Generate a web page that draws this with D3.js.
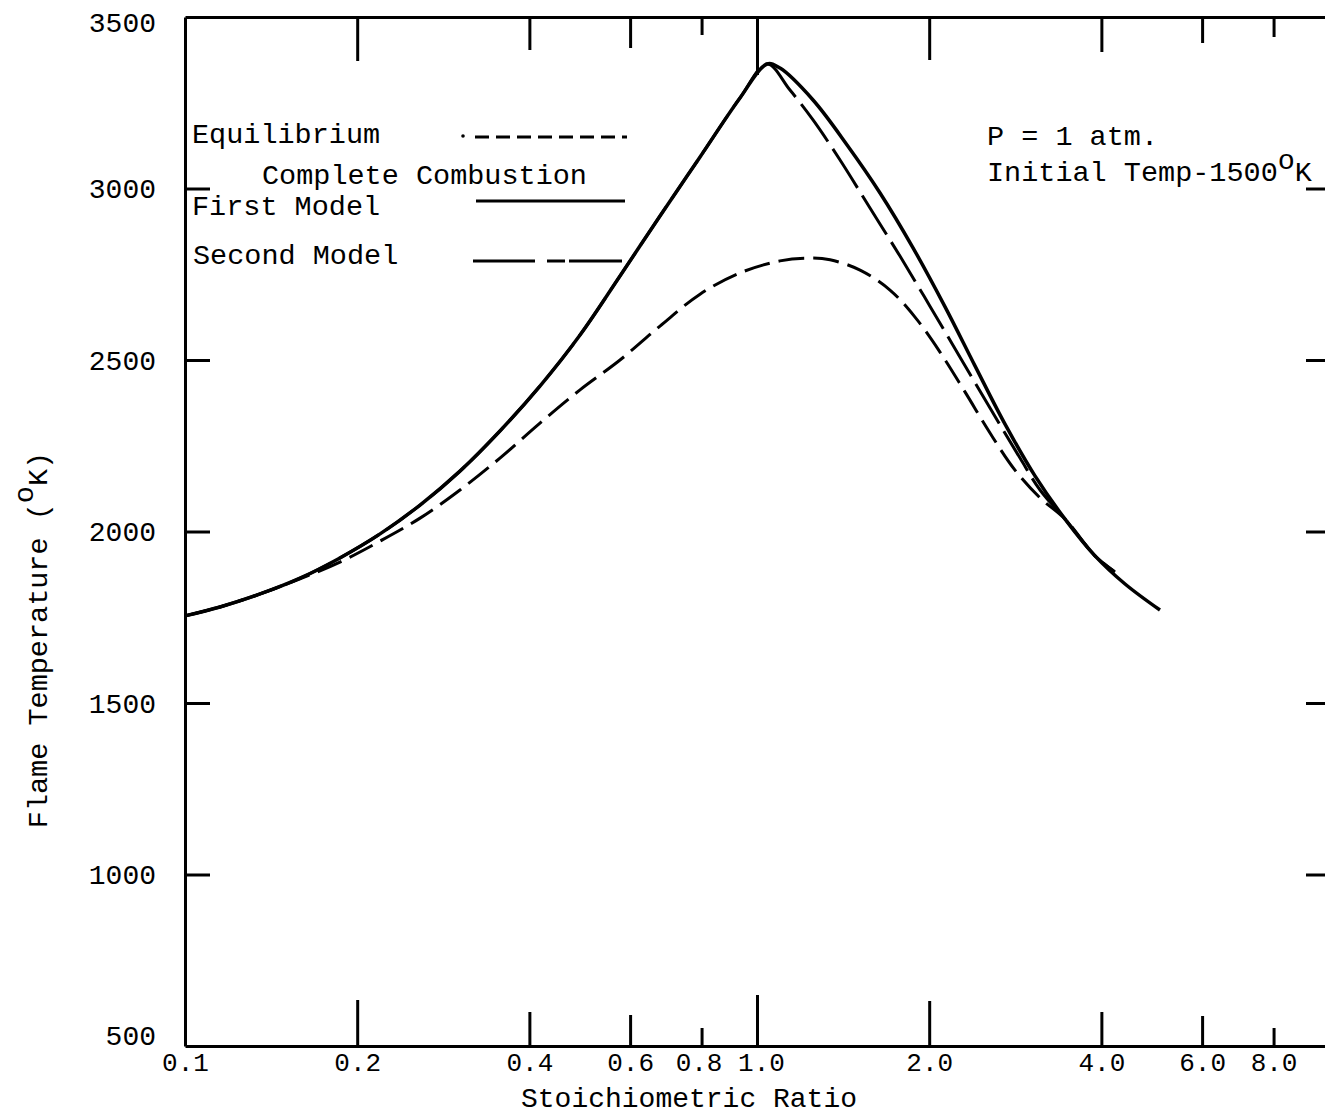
<!DOCTYPE html>
<html><head><meta charset="utf-8">
<script src="https://cdn.jsdelivr.net/npm/d3@7"></script>
<style>body{margin:0;background:#fff} svg{display:block;background:#fff}</style>
</head><body>
<svg id="c" width="1325" height="1118"></svg>
<script>
// ---------- data ----------
const xTicks = [0.1, 0.2, 0.4, 0.6, 0.8, 1.0, 2.0, 4.0, 6.0, 8.0];
const xTickLabels = ["0.1", "0.2", "0.4", "0.6", "0.8", "1.0", "2.0", "4.0", "6.0", "8.0"];
const yTicks = [500, 1000, 1500, 2000, 2500, 3000, 3500];

// Complete Combustion – First Model (solid)
const firstRatio = [0.1, 0.1151, 0.1353, 0.1589, 0.1866, 0.2193, 0.2576, 0.3025, 0.3553, 0.4174, 0.4905, 0.5761,
                    0.6768, 0.7951, 0.9338, 1.041, 1.097, 1.253, 1.437, 1.641, 1.874, 2.132, 2.405, 2.714,
                    3.062, 3.456, 3.899, 4.400, 5.064];
const firstTemp  = [1754, 1780, 1818, 1864, 1923, 1993, 2077, 2176, 2293, 2424, 2573, 2745,
                    2920, 3092, 3264, 3363, 3351, 3258, 3127, 2987, 2827, 2655, 2483, 2313,
                    2162, 2036, 1929, 1847, 1771];

// Complete Combustion – Second Model (long dash)
const secondRatio = [0.1, 0.1151, 0.1353, 0.1589, 0.1866, 0.2193, 0.2576, 0.3025, 0.3553, 0.4174, 0.4905, 0.5761,
                     0.6768, 0.7951, 0.9338, 1.041, 1.142, 1.253, 1.397, 1.576, 1.778, 2.006, 2.263, 2.555,
                     2.883, 3.125, 3.456, 3.899, 4.226];
const secondTemp  = [1754, 1780, 1818, 1864, 1923, 1993, 2077, 2176, 2293, 2424, 2573, 2745,
                     2920, 3092, 3264, 3363, 3287, 3200, 3083, 2943, 2803, 2657, 2509, 2360,
                     2214, 2121, 2036, 1929, 1882];

// Equilibrium (short dash)
const eqRatio = [0.1, 0.1151, 0.1353, 0.1589, 0.1866, 0.2193, 0.2576, 0.3025, 0.3553, 0.4174, 0.4905, 0.5761,
                 0.6768, 0.7951, 0.9338, 1.097, 1.213, 1.342, 1.514, 1.708, 1.889, 2.089, 2.310, 2.555,
                 2.825, 3.125, 3.456, 3.899, 4.226];
const eqTemp  = [1754, 1780, 1818, 1862, 1911, 1972, 2039, 2121, 2214, 2316, 2413, 2500,
                 2599, 2692, 2754, 2789, 2797, 2792, 2762, 2704, 2625, 2523, 2407, 2287,
                 2179, 2098, 2036, 1929, 1882];

// ---------- drawing ----------
const FONT = "'Liberation Mono', 'DejaVu Sans Mono', monospace";
const svg = d3.select("#c");
const L = 185, R = 1329, T = 17, B = 1046;
const x = d3.scaleLog().domain([0.1, 10]).range([L, R]);
const y = d3.scaleLinear().domain([500, 3500]).range([B, T]);

// tick length styles (pixels)
const bottomLen = {0.2: 46, 0.4: 34, 0.6: 31, 0.8: 18, 1: 51, 2: 45, 4: 34, 6: 30, 8: 18};
const topLen    = {0.2: 44, 0.4: 33, 0.6: 31, 0.8: 18, 1: 58, 2: 43, 4: 35, 6: 26, 8: 20};

const axisStyle = g => {
  g.select(".domain").attr("stroke", "#000").attr("stroke-width", 3);
  g.selectAll(".tick line").attr("stroke", "#000").attr("stroke-width", 3);
  g.selectAll("text").attr("fill", "#000").style("font-family", FONT);
};

// bottom axis
const gB = svg.append("g").attr("transform", `translate(0,${B})`)
  .call(d3.axisBottom(x).tickValues(xTicks).tickFormat((d, i) => xTickLabels[i]).tickSizeInner(0).tickSizeOuter(0))
  .call(axisStyle);
gB.selectAll(".tick line").attr("y2", d => -(bottomLen[d] || 0));
gB.selectAll(".tick text").attr("y", 25).attr("dy", null).style("font-size", "26px")
  .attr("x", d => d === 1 ? 4 : (d === 0.8 ? -3 : 0));

// top axis
const gT = svg.append("g").attr("transform", `translate(0,${T})`)
  .call(d3.axisTop(x).tickValues(xTicks.slice(1)).tickFormat("").tickSizeInner(0).tickSizeOuter(0))
  .call(axisStyle);
gT.selectAll(".tick line").attr("y2", d => topLen[d] || 0);

// left axis
const gL = svg.append("g").attr("transform", `translate(${L},0)`)
  .call(d3.axisLeft(y).tickValues(yTicks).tickFormat(d3.format("d")).tickSizeInner(0).tickSizeOuter(0))
  .call(axisStyle);
gL.selectAll(".tick line").attr("x2", d => (d === 500 || d === 3500) ? 0 : 25);
gL.selectAll(".tick text").attr("x", -29).attr("dy", null)
  .attr("y", d => d === 500 ? -2 : (d === 3500 ? 14 : 9))
  .style("font-size", "28px");

// right axis
svg.append("g").attr("transform", `translate(${R},0)`)
  .call(d3.axisRight(y).tickValues(yTicks.slice(1, -1)).tickFormat("").tickSizeInner(-23).tickSizeOuter(0))
  .call(axisStyle);

// curves
const line = d3.line().x(d => x(d[0])).y(d => y(d[1])).curve(d3.curveCatmullRom.alpha(0.5));
const zip = (a, b) => a.map((v, i) => [v, b[i]]);

svg.append("path").datum(zip(eqRatio, eqTemp)).attr("d", line)
  .attr("fill", "none").attr("stroke", "#000").attr("stroke-width", 3).attr("stroke-dasharray", "26,9");
svg.append("path").datum(zip(secondRatio, secondTemp)).attr("d", line)
  .attr("fill", "none").attr("stroke", "#000").attr("stroke-width", 3).attr("stroke-dasharray", "46,9");
svg.append("path").datum(zip(firstRatio, firstTemp)).attr("d", line)
  .attr("fill", "none").attr("stroke", "#000").attr("stroke-width", 3.5);

// legend text
const txt = (tx, ty, s, size) => svg.append("text").attr("x", tx).attr("y", ty)
  .style("font-family", FONT).style("font-size", (size || 28.5) + "px").attr("fill", "#000").text(s);

txt(192, 143, "Equilibrium");
txt(262, 184, "Complete Combustion");
txt(192, 215, "First Model");
txt(193, 264, "Second Model");

// legend lines
svg.append("circle").attr("cx", 463).attr("cy", 136).attr("r", 1.8).attr("fill", "#000");
svg.append("line").attr("x1", 475).attr("x2", 627).attr("y1", 137).attr("y2", 137)
  .attr("stroke", "#000").attr("stroke-width", 3).attr("stroke-dasharray", "14,7");
svg.append("line").attr("x1", 476).attr("x2", 625).attr("y1", 201).attr("y2", 201)
  .attr("stroke", "#000").attr("stroke-width", 3);
svg.append("line").attr("x1", 473).attr("x2", 622).attr("y1", 261).attr("y2", 261)
  .attr("stroke", "#000").attr("stroke-width", 3).attr("stroke-dasharray", "62,12,18,4,60");

// conditions annotation
txt(987, 145, "P = 1 atm.");
const t2 = txt(987, 181, "Initial Temp-1500");
t2.append("tspan").attr("dy", -12).text("o");
t2.append("tspan").attr("dy", 12).text("K");

// axis titles
svg.append("text").attr("x", 689).attr("y", 1107).attr("text-anchor", "middle")
  .style("font-family", FONT).style("font-size", "28px").attr("fill", "#000").text("Stoichiometric Ratio");

const yl = svg.append("text").attr("transform", "translate(47,640) rotate(-90)").attr("text-anchor", "middle")
  .style("font-family", FONT).style("font-size", "28.5px").attr("fill", "#000");
yl.append("tspan").text("Flame Temperature ( ");
yl.append("tspan").attr("dx", -17).attr("dy", -14).text("o");
yl.append("tspan").attr("dy", 14).text("K)");
</script>
</body></html>
